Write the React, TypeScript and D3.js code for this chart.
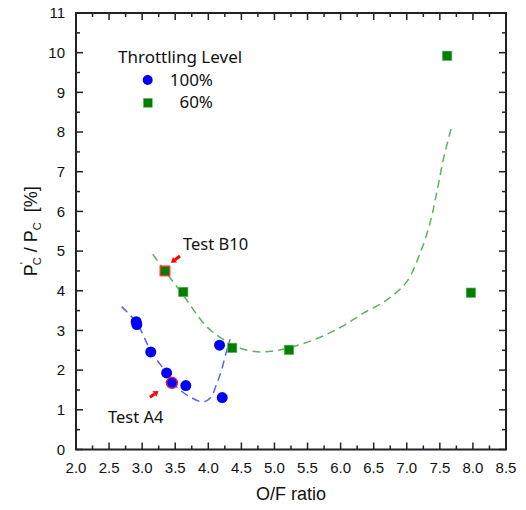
import React from "react";
import * as d3 from "d3";

// ---- Data ----
const ofRatio100 = [2.91, 2.92, 3.13, 3.37, 3.45, 3.66, 4.17, 4.21];
const pc100 = [3.22, 3.15, 2.46, 1.93, 1.68, 1.61, 2.63, 1.31];
const ofRatio60 = [3.345, 3.62, 4.36, 5.22, 7.61, 7.97];
const pc60 = [4.5, 3.97, 2.56, 2.51, 9.92, 3.95];

// fitted (dashed) trend curves
const fit100X = [2.69, 2.92, 3.14, 3.37, 3.52, 3.72, 3.92, 4.04, 4.12, 4.2, 4.27, 4.33];
const fit100Y = [3.6, 3.18, 2.46, 1.93, 1.58, 1.33, 1.2, 1.32, 1.62, 2.0, 2.45, 2.78];
const fit60X = [3.16, 3.345, 3.62, 3.98, 4.28, 4.48, 4.78, 5.08, 5.59, 6.0, 6.34, 6.7, 7.0, 7.2, 7.35, 7.45, 7.55, 7.68];
const fit60Y = [4.92, 4.5, 3.89, 3.09, 2.72, 2.55, 2.46, 2.51, 2.76, 3.08, 3.43, 3.77, 4.23, 4.94, 5.7, 6.45, 7.29, 8.15];

const xTicks = [2.0, 2.5, 3.0, 3.5, 4.0, 4.5, 5.0, 5.5, 6.0, 6.5, 7.0, 7.5, 8.0, 8.5];
const yTicks = [0, 1, 2, 3, 4, 5, 6, 7, 8, 9, 10, 11];

const highlight100 = 4; // Test A4
const highlight60 = 0; // Test B10

const W = 526, H = 510;
const left = 76, right = 506, top = 13, bottom = 449.5;

export default function App() {
  const x = d3.scaleLinear().domain([2, 8.5]).range([left, right]);
  const y = d3.scaleLinear().domain([0, 11]).range([bottom, top]);
  const line = d3
    .line<[number, number]>()
    .x((d) => x(d[0]))
    .y((d) => y(d[1]))
    .curve(d3.curveCatmullRom.alpha(0.5));

  const fit100 = fit100X.map((v, i) => [v, fit100Y[i]] as [number, number]);
  const fit60 = fit60X.map((v, i) => [v, fit60Y[i]] as [number, number]);

  const xMinor = d3.range(0, 26).map((i) => 2 + i * 0.25 + 0.25).filter((v) => v < 8.5 && Math.abs((v * 2) % 1) > 0.01);
  const yMinor = d3.range(0, 11).map((i) => i + 0.5);

  const tickFont = "Liberation Sans, Arial, sans-serif";
  const txtFont = "Noto Sans, Open Sans, sans-serif";
  const MAJ = 7, MIN = 4;

  const arrow = (x1: number, y1: number, x2: number, y2: number) => {
    const ang = Math.atan2(y2 - y1, x2 - x1);
    const hl = 5, hw = 3.5;
    const bx = x2 - hl * Math.cos(ang), by = y2 - hl * Math.sin(ang);
    const px = -Math.sin(ang), py = Math.cos(ang);
    return (
      <g>
        <line x1={x1} y1={y1} x2={bx} y2={by} stroke="#ff0000" strokeWidth={3} />
        <polygon
          points={`${x2},${y2} ${bx + px * hw},${by + py * hw} ${bx - px * hw},${by - py * hw}`}
          fill="#ff0000"
        />
      </g>
    );
  };

  return (
    <svg width={W} height={H} style={{ position: "absolute", left: 0, top: 0, background: "#fff" }}>
      <rect width={W} height={H} fill="#fff" />
      {/* curves */}
      <path d={line(fit100) || ""} fill="none" stroke="#5566f2" strokeWidth={1.5} strokeDasharray="8,5" />
      <path d={line(fit60) || ""} fill="none" stroke="#5cb35c" strokeWidth={1.5} strokeDasharray="8,5" />

      {/* ticks */}
      {xTicks.map((t) => (
        <g key={"xt" + t}>
          <line x1={x(t)} x2={x(t)} y1={bottom} y2={bottom - MAJ} stroke="#222" strokeWidth={1.5} />
          <line x1={x(t)} x2={x(t)} y1={top} y2={top + MAJ} stroke="#222" strokeWidth={1.5} />
          <text x={x(t)} y={473} textAnchor="middle" fontFamily={tickFont} fontSize={15} fill="#111">
            {t.toFixed(1)}
          </text>
        </g>
      ))}
      {xMinor.map((t) => (
        <g key={"xm" + t}>
          <line x1={x(t)} x2={x(t)} y1={bottom} y2={bottom - MIN} stroke="#222" strokeWidth={1.5} />
          <line x1={x(t)} x2={x(t)} y1={top} y2={top + MIN} stroke="#222" strokeWidth={1.5} />
        </g>
      ))}
      {yTicks.map((t) => (
        <g key={"yt" + t}>
          <line x1={left} x2={left + MAJ} y1={y(t)} y2={y(t)} stroke="#222" strokeWidth={1.5} />
          <line x1={right} x2={right - MAJ} y1={y(t)} y2={y(t)} stroke="#222" strokeWidth={1.5} />
          <text x={65} y={y(t) + 5.3} textAnchor="end" fontFamily={tickFont} fontSize={15} fill="#111">
            {t}
          </text>
        </g>
      ))}
      {yMinor.map((t) => (
        <g key={"ym" + t}>
          <line x1={left} x2={left + MIN} y1={y(t)} y2={y(t)} stroke="#222" strokeWidth={1.5} />
          <line x1={right} x2={right - MIN} y1={y(t)} y2={y(t)} stroke="#222" strokeWidth={1.5} />
        </g>
      ))}
      <rect x={left} y={top} width={right - left} height={bottom - top} fill="none" stroke="#222" strokeWidth={2} />

      {/* points */}
      {ofRatio100.map((v, i) => (
        <circle
          key={"c" + i}
          cx={x(v)}
          cy={y(pc100[i])}
          r={5.5}
          fill="#0000ff"
          stroke={i === highlight100 ? "#e0204a" : "none"}
          strokeWidth={1.5}
        />
      ))}
      {ofRatio60.map((v, i) => (
        <rect
          key={"s" + i}
          x={x(v) - 4.8}
          y={y(pc60[i]) - 4.8}
          width={9.6}
          height={9.6}
          fill="#008000"
          stroke={i === highlight60 ? "#ff3030" : "#7fbf7f"}
          strokeWidth={i === highlight60 ? 1.3 : 0.6}
        />
      ))}

      {/* annotations */}
      {arrow(180, 256, 171, 262.7)}
      {arrow(150, 397.3, 158.5, 391)}
      <text x={183} y={250} fontFamily={txtFont} fontSize={16.5} fill="#111">Test B10</text>
      <text x={108} y={423} fontFamily={txtFont} fontSize={16.5} fill="#111">Test A4</text>

      {/* legend */}
      <text x={118} y={63} fontFamily={txtFont} fontSize={17} fill="#111">Throttling Level</text>
      <circle cx={147.7} cy={80} r={5} fill="#0000ff" />
      <text x={213} y={86} textAnchor="end" fontFamily={txtFont} fontSize={17} fill="#111">100%</text>
      <rect x={143.3} y={98.3} width={9} height={9} fill="#008000" stroke="#7fbf7f" strokeWidth={0.6} />
      <text x={213} y={108} textAnchor="end" fontFamily={txtFont} fontSize={17} fill="#111">60%</text>

      {/* axis titles */}
      <text x={(left + right) / 2} y={500} textAnchor="middle" fontFamily={tickFont} fontSize={18} fill="#111">
        O/F ratio
      </text>
      <g transform={`translate(37, ${(top + bottom) / 2}) rotate(-90)`}>
        <text textAnchor="middle" fontFamily={tickFont} fontSize={18} fill="#111">
          <tspan>P</tspan>
          <tspan fontSize={11} dy={-9}>'</tspan>
          <tspan fontSize={11} dx={-3} dy={13}>C</tspan>
          <tspan dy={-4}>{"\u00a0/\u00a0P"}</tspan>
          <tspan fontSize={11} dy={4}>C</tspan>
          <tspan dy={-4}>{"\u00a0\u00a0[%]"}</tspan>
        </text>
      </g>
    </svg>
  );
}
